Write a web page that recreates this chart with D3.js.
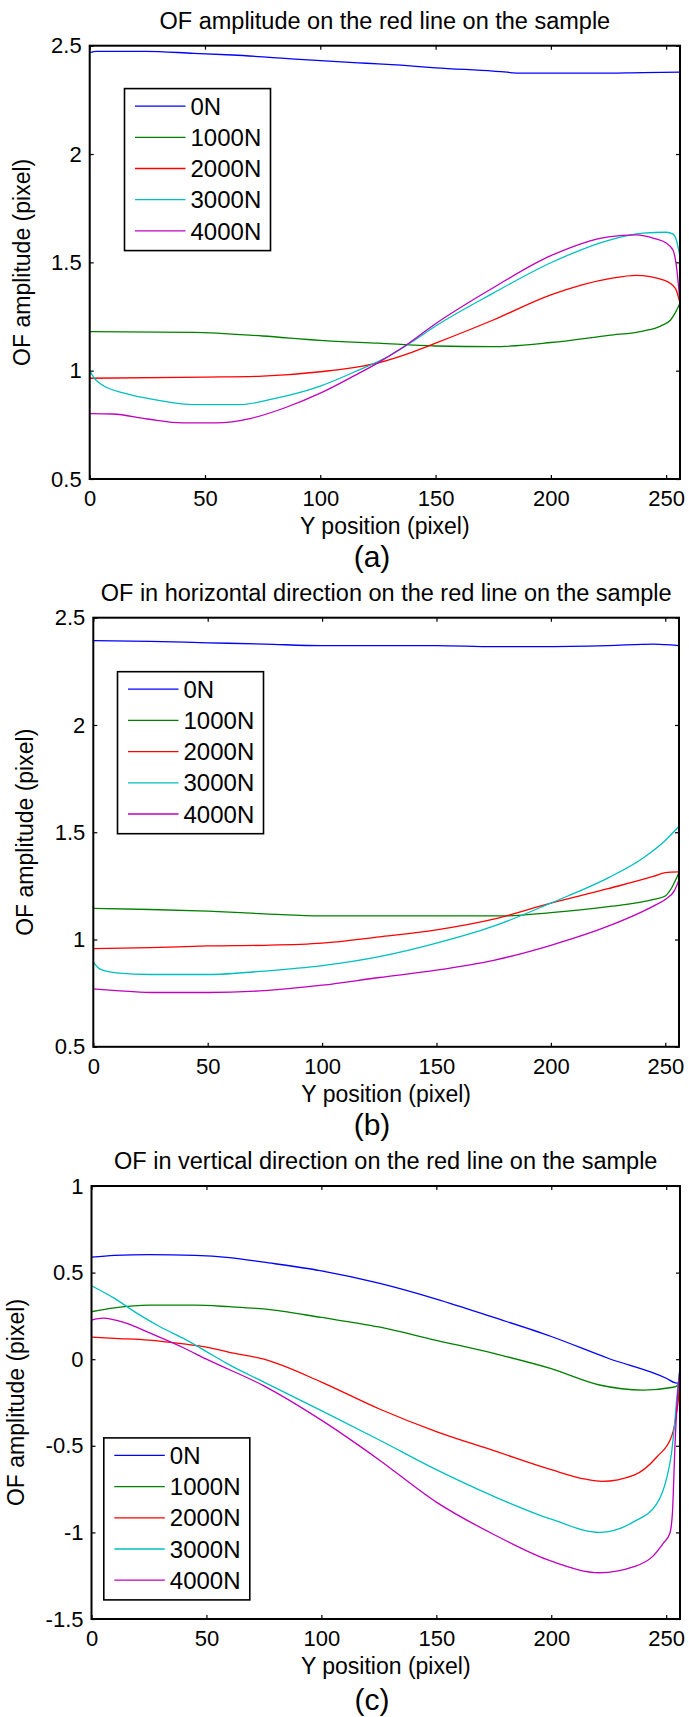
<!DOCTYPE html>
<html>
<head>
<meta charset="utf-8">
<script src="https://cdn.jsdelivr.net/npm/d3@7"></script>
<style>
  html, body { margin: 0; padding: 0; background: #fff; }
  svg { display: block; }
  text { font-family: "Liberation Sans", Arial, sans-serif; fill: #000; }
</style>
</head>
<body>
<svg id="fig" width="689" height="1717"></svg>
<script>
// ---- shared labels ----
const seriesNames = ["0N", "1000N", "2000N", "3000N", "4000N"];
const seriesColors = ["#0000ff", "#008000", "#ff0000", "#00bfbf", "#bf00bf"];
const xTicks = [0, 50, 100, 150, 200, 250];
const yTicksAB = [0.5, 1, 1.5, 2, 2.5];
const yTicksC = [-1.5, -1, -0.5, 0, 0.5, 1];

// ---- (a) OF amplitude: [Y position, amplitude] ----
const ampl0N = [[0,2.468],[3,2.474],[24,2.474],[45,2.465],[62,2.457],[91,2.437],[120,2.419],[135,2.41],[150,2.398],[175,2.383],[188,2.373],[220,2.373],[240,2.376],[256,2.378]];
const ampl1000N = [[0,1.18],[45,1.177],[75,1.16],[100,1.14],[125,1.127],[150,1.114],[175,1.111],[200,1.13],[225,1.163],[240,1.183],[247.6,1.206],[251.9,1.234],[254,1.268],[256,1.311]];
const ampl2000N = [[0,0.965],[50,0.97],[75,0.975],[100,0.995],[125,1.036],[140,1.086],[150,1.127],[175,1.234],[200,1.35],[226,1.426],[237,1.44],[249,1.418],[254,1.38],[256,1.311]];
const ampl3000N = [[0,1.0],[2,0.965],[5,0.937],[15,0.896],[30,0.863],[45,0.843],[65,0.843],[80,0.871],[100,0.929],[115,0.995],[130,1.069],[140,1.135],[150,1.206],[175,1.358],[200,1.498],[225,1.602],[240,1.635],[250,1.639],[253,1.63],[254.5,1.6],[256,1.526]];
const ampl4000N = [[0,0.802],[10,0.8],[25,0.777],[40,0.759],[55,0.759],[70,0.78],[85,0.83],[100,0.896],[115,0.978],[125,1.036],[135,1.102],[150,1.217],[175,1.383],[200,1.531],[225,1.618],[237,1.627],[245,1.61],[250,1.589],[253,1.556],[254.7,1.46],[256,1.311]];

// ---- (b) OF horizontal component ----
const horiz0N = [[0,2.393],[25,2.39],[50,2.383],[75,2.377],[100,2.37],[150,2.37],[175,2.365],[195,2.365],[225,2.37],[245,2.377],[256,2.37]];
const horiz1000N = [[0,1.145],[25,1.14],[50,1.132],[75,1.12],[100,1.11],[150,1.11],[180,1.11],[200,1.125],[225,1.153],[245,1.187],[250,1.203],[253,1.245],[256,1.312]];
const horiz2000N = [[0,0.958],[25,0.962],[50,0.97],[75,0.973],[100,0.983],[125,1.012],[150,1.045],[175,1.095],[200,1.17],[225,1.237],[245,1.295],[250,1.312],[256,1.315]];
const horiz3000N = [[0,0.895],[3,0.862],[10,0.845],[25,0.837],[50,0.837],[75,0.853],[100,0.878],[125,0.92],[150,0.983],[175,1.062],[200,1.17],[225,1.287],[240,1.378],[250,1.462],[256,1.528]];
const horiz4000N = [[0,0.77],[10,0.762],[25,0.753],[50,0.753],[75,0.762],[100,0.787],[125,0.823],[150,0.857],[175,0.903],[200,0.973],[225,1.062],[245,1.157],[250,1.187],[254,1.228],[256,1.278]];

// ---- (c) OF vertical component ----
const vert0N = [[0,0.589],[10,0.6],[25,0.604],[45,0.6],[60,0.587],[75,0.56],[100,0.51],[125,0.439],[150,0.347],[175,0.241],[200,0.131],[225,0.004],[250,-0.11],[254,-0.137],[256,-0.14]];
const vert1000N = [[0,0.274],[10,0.296],[25,0.312],[45,0.312],[60,0.303],[75,0.29],[100,0.241],[125,0.186],[150,0.109],[175,0.033],[200,-0.055],[221,-0.149],[240,-0.178],[253,-0.162],[255,-0.15],[256,-0.13]];
const vert2000N = [[0,0.127],[10,0.12],[25,0.11],[40,0.088],[50,0.07],[60,0.04],[75,0.0],[100,-0.132],[125,-0.286],[150,-0.418],[175,-0.528],[200,-0.638],[215,-0.693],[222,-0.705],[236,-0.669],[246,-0.563],[252.3,-0.447],[254.5,-0.312],[255.5,-0.195],[256,-0.05]];
const vert3000N = [[0,0.424],[10,0.351],[20,0.263],[30,0.186],[40,0.12],[50,0.044],[60,-0.033],[75,-0.132],[100,-0.297],[125,-0.465],[150,-0.638],[175,-0.792],[200,-0.924],[221,-1.0],[236,-0.938],[246,-0.832],[250,-0.697],[252.3,-0.543],[253.8,-0.351],[254.8,-0.197],[256,-0.05]];
const vert4000N = [[0,0.226],[5,0.237],[15,0.208],[25,0.153],[40,0.066],[50,0.0],[75,-0.154],[100,-0.352],[125,-0.58],[150,-0.825],[175,-1.012],[200,-1.166],[221,-1.233],[236,-1.198],[244,-1.14],[248.7,-1.063],[251.6,-1.005],[252.7,-0.89],[253.8,-0.505],[254.8,-0.236],[256,-0.05]];

const svg = d3.select("#fig");
const fmt = d => String(d);

function drawPanel(p) {
  const x = d3.scaleLinear().domain([0, 256]).range([p.left, p.right]);
  const y = d3.scaleLinear().domain(p.yDomain).range([p.bottom, p.top]);
  const g = svg.append("g");
  const tick = 4;

  // axes with inward ticks on all four sides
  const bottom = g.append("g").attr("transform", `translate(0,${p.bottom})`)
    .call(d3.axisBottom(x).tickValues(xTicks).tickFormat(fmt).tickSizeInner(-tick).tickSizeOuter(0).tickPadding(11.7));
  const top = g.append("g").attr("transform", `translate(0,${p.top})`)
    .call(d3.axisTop(x).tickValues(xTicks).tickFormat("").tickSizeInner(-tick).tickSizeOuter(0));
  const left = g.append("g").attr("transform", `translate(${p.left},0)`)
    .call(d3.axisLeft(y).tickValues(p.yTicks).tickFormat(fmt).tickSizeInner(-tick).tickSizeOuter(0).tickPadding(8));
  const right = g.append("g").attr("transform", `translate(${p.right},0)`)
    .call(d3.axisRight(y).tickValues(p.yTicks).tickFormat("").tickSizeInner(-tick).tickSizeOuter(0));
  [bottom, top, left, right].forEach(a => {
    a.select(".domain").remove();
    a.selectAll(".tick line").attr("stroke", "#000").attr("stroke-width", 1.2);
    a.selectAll(".tick text").attr("font-size", 22).attr("font-family", '"Liberation Sans", Arial, sans-serif').attr("fill", "#000");
  });

  // series curves
  const line = d3.line().x(d => x(d[0])).y(d => y(d[1])).curve(d3.curveMonotoneX);
  p.series.forEach((s, i) => {
    g.append("path").datum(s).attr("d", line)
      .attr("fill", "none").attr("stroke", seriesColors[i])
      .attr("stroke-width", 1.3).attr("stroke-linejoin", "round");
  });

  // plot box
  g.append("rect").attr("x", p.left).attr("y", p.top)
    .attr("width", p.right - p.left).attr("height", p.bottom - p.top)
    .attr("fill", "none").attr("stroke", "#000").attr("stroke-width", 2);

  // title and axis labels
  const cx = (p.left + p.right) / 2;
  g.append("text").attr("x", cx).attr("y", p.top - 17).attr("text-anchor", "middle")
    .attr("font-size", 23.5).text(p.title);
  g.append("text").attr("x", cx).attr("y", p.bottom + 55).attr("text-anchor", "middle")
    .attr("font-size", 23).text("Y position (pixel)");
  g.append("text").attr("transform", `translate(${p.yLabelX},${(p.top + p.bottom) / 2}) rotate(-90)`)
    .attr("text-anchor", "middle").attr("font-size", 23).text("OF amplitude (pixel)");
  g.append("text").attr("x", 372).attr("y", p.bottom + p.capDy).attr("text-anchor", "middle")
    .attr("font-family", '"Liberation Serif", "Times New Roman", serif')
    .attr("font-size", 30).text(p.caption);

  // legend
  const lg = g.append("g").attr("transform", `translate(${p.legend[0]},${p.legend[1]})`);
  lg.append("rect").attr("x", 0).attr("y", 0).attr("width", 146).attr("height", 162)
    .attr("fill", "#fff").attr("stroke", "#000").attr("stroke-width", 1.6);
  seriesNames.forEach((n, i) => {
    const yy = 17.5 + i * 31.2;
    lg.append("line").attr("x1", 10.5).attr("x2", 61).attr("y1", yy).attr("y2", yy)
      .attr("stroke", seriesColors[i]).attr("stroke-width", 1.3);
    lg.append("text").attr("x", 66).attr("y", yy).attr("dy", "0.36em")
      .attr("font-size", 24).text(n);
  });
}

drawPanel({
  left: 89.7, right: 680, top: 45.7, bottom: 479,
  yDomain: [0.5, 2.5], yTicks: yTicksAB, yLabelX: 29.5,
  title: "OF amplitude on the red line on the sample", caption: "(a)", capDy: 88,
  legend: [124.5, 88.6],
  series: [ampl0N, ampl1000N, ampl2000N, ampl3000N, ampl4000N]
});
drawPanel({
  left: 93.3, right: 679, top: 617.7, bottom: 1046.8,
  yDomain: [0.5, 2.5], yTicks: yTicksAB, yLabelX: 32.5,
  title: "OF in horizontal direction on the red line on the sample", caption: "(b)", capDy: 88,
  legend: [117.5, 671.7],
  series: [horiz0N, horiz1000N, horiz2000N, horiz3000N, horiz4000N]
});
drawPanel({
  left: 91.5, right: 680, top: 1186, bottom: 1619,
  yDomain: [-1.5, 1], yTicks: yTicksC, yLabelX: 24,
  title: "OF in vertical direction on the red line on the sample", caption: "(c)", capDy: 91,
  legend: [103.8, 1437.9],
  series: [vert0N, vert1000N, vert2000N, vert3000N, vert4000N]
});
</script>
</body>
</html>
